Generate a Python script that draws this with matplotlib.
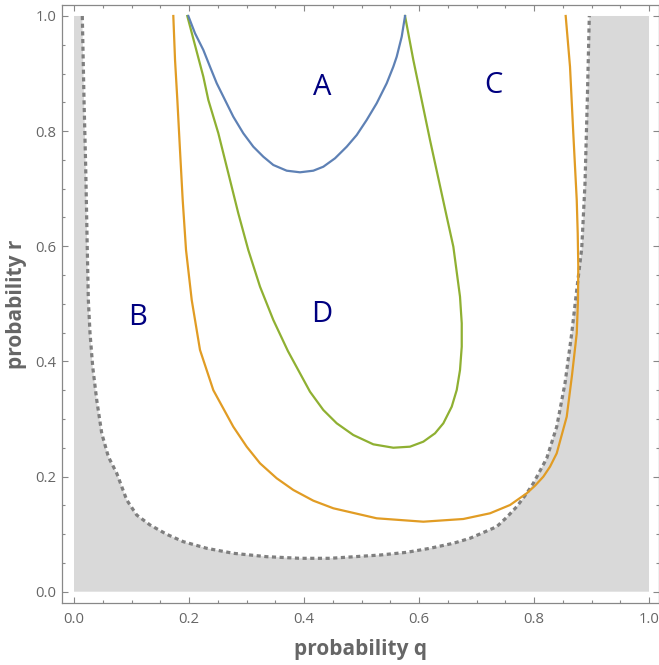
import numpy as np
import matplotlib
matplotlib.use('Agg')
import matplotlib.pyplot as plt
from matplotlib.ticker import MultipleLocator

# boundary of the allowed region (dotted)
bound_q = [0.0144, 0.0174, 0.0203, 0.0221, 0.0231, 0.0249, 0.0278, 0.0325, 0.0395,
           0.0482, 0.0597, 0.0743, 0.0917, 0.1090, 0.1322, 0.1612, 0.1901, 0.2308,
           0.2770, 0.3351, 0.3930, 0.4452, 0.5322, 0.5786, 0.6191, 0.6597, 0.6887,
           0.7351, 0.7525, 0.7699, 0.7873, 0.7988, 0.8221, 0.8395, 0.8539, 0.8656,
           0.8743, 0.8830, 0.8887, 0.8927, 0.8962]
bound_r = [1.0, 0.8541, 0.7383, 0.6457, 0.5935, 0.5067, 0.4494, 0.3908, 0.3330,
           0.2751, 0.2345, 0.2057, 0.1593, 0.1332, 0.1159, 0.0997, 0.0869, 0.0754,
           0.0667, 0.0608, 0.0580, 0.0580, 0.0637, 0.0684, 0.0754, 0.0841, 0.0928,
           0.1129, 0.1292, 0.1476, 0.1709, 0.1883, 0.2317, 0.2866, 0.3620, 0.4488,
           0.5241, 0.5965, 0.7094, 0.8541, 1.0]

# blue curve
blue_q = [0.1988, 0.2104, 0.2249, 0.2365, 0.2482, 0.2626, 0.2770, 0.2944, 0.3118,
          0.3292, 0.3466, 0.3699, 0.3930, 0.4162, 0.4336, 0.4539, 0.4743, 0.4917,
          0.5090, 0.5264, 0.5438, 0.5553, 0.5612, 0.5699, 0.5757]
blue_r = [1.0, 0.9700, 0.9410, 0.9119, 0.8831, 0.8541, 0.8251, 0.7963, 0.7730,
          0.7556, 0.7412, 0.7313, 0.7285, 0.7313, 0.7382, 0.7528, 0.7730, 0.7933,
          0.8194, 0.8484, 0.8831, 0.9119, 0.9293, 0.9640, 1.0]

# green curve
green_q = [0.197, 0.2249, 0.2336, 0.2510, 0.2684, 0.2857, 0.3031, 0.3235, 0.3466,
           0.3720, 0.4104, 0.4336, 0.4569, 0.4857, 0.5205, 0.5553, 0.5843, 0.6075,
           0.6278, 0.6423, 0.6569, 0.6656, 0.6713, 0.6743, 0.6743, 0.6713, 0.6597,
           0.6482, 0.6191, 0.5901, 0.5757]
green_r = [1.0, 0.8946, 0.8541, 0.7963, 0.7267, 0.6573, 0.5935, 0.5298, 0.4720,
           0.4180, 0.3474, 0.3156, 0.2925, 0.2722, 0.2560, 0.2501, 0.2519, 0.2606,
           0.2751, 0.2925, 0.3214, 0.3504, 0.3851, 0.4256, 0.4662, 0.5124, 0.5993,
           0.6514, 0.7846, 0.9236, 1.0]

# orange curve
orange_q = [0.1727, 0.1757, 0.1797, 0.1843, 0.1890, 0.1948, 0.2047, 0.2191, 0.2423,
            0.2770, 0.3003, 0.3235, 0.3525, 0.3814, 0.4162, 0.4510, 0.5264, 0.6075,
            0.6770, 0.7235, 0.7583, 0.7873, 0.8017, 0.8162, 0.8278, 0.8395, 0.8569,
            0.8661, 0.8743, 0.8765, 0.8770, 0.8760, 0.8743, 0.8683, 0.8626, 0.8551]
orange_r = [1.0, 0.9234, 0.8541, 0.7672, 0.6804, 0.5935, 0.5067, 0.4199, 0.3500,
            0.2866, 0.2519, 0.2230, 0.1970, 0.1767, 0.1581, 0.1449, 0.1275, 0.1216,
            0.1263, 0.1362, 0.1506, 0.1709, 0.1841, 0.1998, 0.2171, 0.2404, 0.3040,
            0.3764, 0.4488, 0.5067, 0.5645, 0.6225, 0.6804, 0.7963, 0.9119, 1.0]

region_labels = ['A', 'B', 'C', 'D']
label_q = [0.431, 0.111, 0.729, 0.430]
label_r = [0.875, 0.477, 0.880, 0.481]

gray = '#666666'
fig = plt.figure(figsize=(6.59, 6.65), dpi=100)
ax = fig.add_axes([62 / 659, (665 - 602.7) / 665, (658.5 - 62) / 659, (602.7 - 5) / 665])

# shaded region below the boundary
poly_q = [0.0, 0.0] + bound_q + [1.0, 1.0]
poly_r = [0.0, 1.0] + bound_r + [1.0, 0.0]
ax.fill(poly_q, poly_r, color='#d9d9d9', lw=0, zorder=1)
ax.plot(bound_q, bound_r, color='#7f7f7f', lw=2.3, ls=(0, (1.3, 1.1)), zorder=2)

ax.plot(orange_q, orange_r, color='#e19c24', lw=1.6, zorder=3)
ax.plot(green_q, green_r, color='#8fb032', lw=1.6, zorder=3)
ax.plot(blue_q, blue_r, color='#5e81b5', lw=1.6, zorder=4)

for s, q, r in zip(region_labels, label_q, label_r):
    ax.text(q, r, s, color='#000080', fontsize=21, family='Open Sans',
            ha='center', va='center', zorder=5)

ax.set_xlim(-0.0209, 1.0165)
ax.set_ylim(-0.0191, 1.0191)
ax.xaxis.set_major_locator(MultipleLocator(0.2))
ax.yaxis.set_major_locator(MultipleLocator(0.2))
ax.xaxis.set_minor_locator(MultipleLocator(0.05))
ax.yaxis.set_minor_locator(MultipleLocator(0.05))
ax.xaxis.set_major_formatter(plt.FormatStrFormatter('%.1f'))
ax.yaxis.set_major_formatter(plt.FormatStrFormatter('%.1f'))
ax.tick_params(which='both', direction='in', top=True, right=True, color='#888888',
               width=0.8, labelcolor=gray, labelsize=10.7)
ax.tick_params(which='major', length=4.5)
ax.tick_params(which='minor', length=2.5)
ax.tick_params(axis='x', pad=7)
ax.tick_params(axis='y', pad=4)
for lab in ax.get_xticklabels() + ax.get_yticklabels():
    lab.set_family('Open Sans')
for sp in ax.spines.values():
    sp.set_color('#888888')
    sp.set_linewidth(0.9)

ax.set_xlabel('probability q', fontsize=15, fontweight='bold', color=gray,
              family='Open Sans', labelpad=8)
ax.set_ylabel('probability r', fontsize=15, fontweight='bold', color=gray,
              family='Open Sans', labelpad=6)

fig.savefig('out.png', dpi=100)
